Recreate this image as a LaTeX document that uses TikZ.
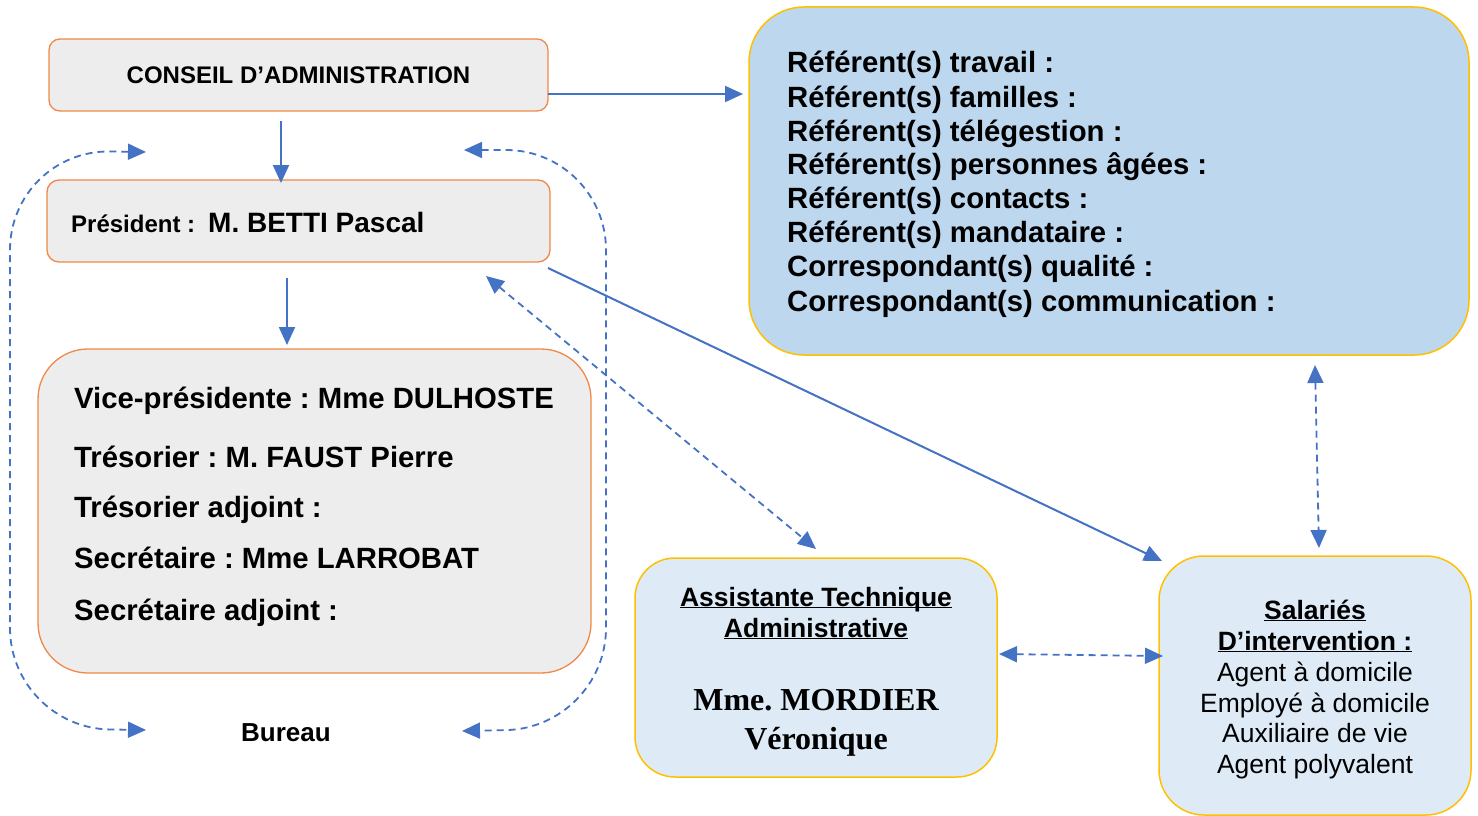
\documentclass[tikz,border=0pt]{standalone}
\usepackage{fontspec}
\setmainfont{Liberation Sans}
\newfontfamily\serifTNR{Liberation Serif}
\usetikzlibrary{arrows.meta}
\definecolor{orgB}{HTML}{F0884A}
\definecolor{greyF}{HTML}{EDEDED}
\definecolor{blueF}{HTML}{BDD7EE}
\definecolor{lblueF}{HTML}{DEEBF7}
\definecolor{goldB}{HTML}{FFC000}
\definecolor{conn}{HTML}{4472C4}
\newcommand\ulx[1]{\underline{\smash{#1}}}
\frenchspacing
\begin{document}
\frenchspacing
\begin{tikzpicture}[x=1pt,y=-1pt,
  greybox/.style={draw=orgB, fill=greyF, line width=1.3pt, inner sep=0pt},
  bluebox/.style={draw=goldB, fill=blueF, line width=1.5pt, inner sep=0pt},
  lbluebox/.style={draw=goldB, fill=lblueF, line width=1.5pt, inner sep=0pt},
  txt/.style={inner sep=0pt, anchor=base west},
  ctxt/.style={inner sep=0pt, anchor=base},
  big/.style={font=\fontsize{29.3}{34}\selectfont\bfseries},
  mid/.style={font=\fontsize{26.5}{31}\selectfont},
  midb/.style={font=\fontsize{26.5}{31}\selectfont\bfseries},
  conarrow/.style={draw=conn, line width=2pt, -{Triangle[length=18pt,width=16pt]}},
  dasharrow/.style={draw=conn, line width=1.8pt, dash pattern=on 7pt off 5pt,
     {Triangle[length=18pt,width=16pt]}-{Triangle[length=18pt,width=16pt]}},
]
\useasboundingbox (0,0) rectangle (1478,816);
\clip (0,0) rectangle (1478,816);

% boxes
\node[greybox, rounded corners=11pt, minimum width=499pt, minimum height=72pt] (ca) at (298.5,75)
  {\fontsize{24}{28}\selectfont\bfseries CONSEIL D’ADMINISTRATION};
\node[greybox, rounded corners=12pt, minimum width=503pt, minimum height=82pt] (pres) at (298.5,221) {};
\node[greybox, rounded corners=50pt, minimum width=553pt, minimum height=324pt] (vice) at (314.5,511) {};
\node[bluebox, rounded corners=55pt, minimum width=720pt, minimum height=348pt] (ref) at (1109,181) {};
\node[lbluebox, rounded corners=40pt, minimum width=362pt, minimum height=219pt] (ata) at (816,667.5) {};
\node[lbluebox, rounded corners=45pt, minimum width=312pt, minimum height=259pt] (sal) at (1315,685.5) {};

% Président
\node[txt, font=\fontsize{24}{28}\selectfont\bfseries] (prl) at (71,232) {Président :};
\node[txt, font=\fontsize{28}{32}\selectfont\bfseries] (prn) at (208,232) {M. BETTI Pascal};

% Bureau members
\node[txt, big] (v1) at (74,408) {Vice-présidente : Mme DULHOSTE};
\node[txt, big] (v2) at (74,467) {Trésorier : M. FAUST Pierre};
\node[txt, big] (v3) at (74,517) {Trésorier adjoint :};
\node[txt, big] (v4) at (74,568) {Secrétaire : Mme LARROBAT};
\node[txt, big] (v5) at (74,620) {Secrétaire adjoint :};
\node[ctxt, font=\fontsize{26}{30}\selectfont\bfseries] (bur) at (286,741) {Bureau};

% référents
\node[txt, big] (r1) at (787,73) {Référent(s) travail :};
\node[txt, big] (r2) at (787,107) {Référent(s) familles :};
\node[txt, big] (r3) at (787,141) {Référent(s) télégestion :};
\node[txt, big] (r4) at (787,174) {Référent(s) personnes âgées :};
\node[txt, big] (r5) at (787,208) {Référent(s) contacts :};
\node[txt, big] (r6) at (787,242) {Référent(s) mandataire :};
\node[txt, big] (r7) at (787,276) {Correspondant(s) qualité :};
\node[txt, big] (r8) at (787,311) {Correspondant(s) communication :};

% assistante
\node[ctxt, midb] (a1) at (816,606) {\ulx{Assistante Technique}};
\node[ctxt, midb] (a2) at (816,637) {\ulx{Administrative}};
\node[ctxt, font=\fontsize{32}{38}\selectfont\serifTNR\bfseries] (a3) at (816,710) {Mme. MORDIER};
\node[ctxt, font=\fontsize{32}{38}\selectfont\serifTNR\bfseries] (a4) at (816,749) {Véronique};

% salariés
\node[ctxt, midb] (s1) at (1315,619) {\ulx{Salariés}};
\node[ctxt, midb] (s2) at (1315,650) {\ulx{D’intervention :}};
\node[ctxt, mid] (s3) at (1315,681) {Agent à domicile};
\node[ctxt, mid] (s4) at (1315,712) {Employé à domicile};
\node[ctxt, mid] (s5) at (1315,742) {Auxiliaire de vie};
\node[ctxt, mid] (s6) at (1315,773) {Agent polyvalent};

% connector end points
\coordinate (caE) at (548,94);
\coordinate (refW) at (743,94);
\coordinate (caS) at (281,121);
\coordinate (presN) at (281,183);
\coordinate (presS) at (287,278);
\coordinate (viceN) at (287,345);
\coordinate (presSE) at (548,268);
\coordinate (salNW) at (1162,561);
\coordinate (presD) at (486,276);
\coordinate (ataN) at (816,549);
\coordinate (refS) at (1315,365);
\coordinate (salN) at (1319,548);
\coordinate (ataE) at (999,654);
\coordinate (salW) at (1163,656);
\coordinate (lTop) at (146,152);
\coordinate (lBot) at (146,730);
\coordinate (rTop) at (464,150);
\coordinate (rBot) at (462,731);

% connectors
\draw[conarrow] (caE) -- (refW);
\draw[conarrow] (caS) -- (presN);
\draw[conarrow] (presS) -- (viceN);
\draw[conarrow] (presSE) -- (salNW);
\draw[dasharrow] (presD) -- (ataN);
\draw[dasharrow] (refS) -- (salN);
\draw[dasharrow] (ataE) -- (salW);
\draw[dasharrow, rounded corners=100pt] (lTop) -- (10,150) -- (10,728) -- (lBot);
\draw[dasharrow, rounded corners=100pt] (rTop) -- (606,150) -- (606,728) -- (rBot);
\end{tikzpicture}
\end{document}
